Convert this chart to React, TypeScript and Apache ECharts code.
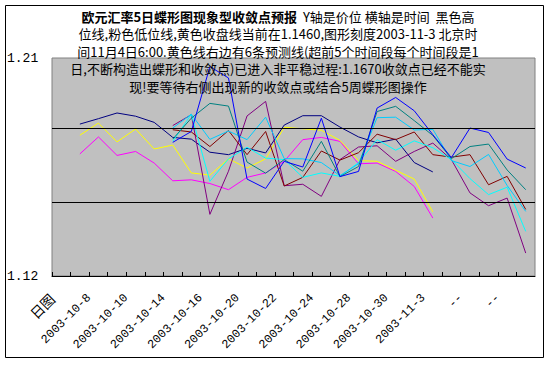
import React, { useEffect, useRef } from "react";
import * as echarts from "echarts";

// x-axis labels (every second slot)
const xLabels = ["日图", "2003-10-8", "2003-10-10", "2003-10-14", "2003-10-16", "2003-10-20", "2003-10-22", "2003-10-24", "2003-10-28", "2003-10-30", "2003-11-3", "--", "--"];
const yLabels = ["1.12", "1.21"];
const gridValues = [1.15, 1.18];

const histStart = 1;
const forecastStart = 6;

const highLine = [1.1816, 1.1838, 1.1861, 1.1848, 1.1823, 1.1762, 1.1755, 1.1702, 1.1692, 1.1718, 1.1699, 1.1812, 1.185, 1.185, 1.1804, 1.1764, 1.174, 1.1755, 1.166, 1.1622];
const closeLine = [1.1771, 1.182, 1.1744, 1.1796, 1.1715, 1.1731, 1.1618, 1.1609, 1.1675, 1.1638, 1.1675, 1.1803, 1.1797, 1.1791, 1.175, 1.1668, 1.1665, 1.1629, 1.1593, 1.146];
const lowLine = [1.1695, 1.1764, 1.1689, 1.1705, 1.1658, 1.1586, 1.159, 1.1575, 1.155, 1.16, 1.1618, 1.1665, 1.1753, 1.1762, 1.1746, 1.1655, 1.1658, 1.1624, 1.1563, 1.1435];

const fBlue = [1.1742, 1.1786, 1.2049, 1.2003, 1.1593, 1.1555, 1.1665, 1.1642, 1.184, 1.1603, 1.1624, 1.1881, 1.1924, 1.187, 1.1773, 1.168, 1.18, 1.1782, 1.1674, 1.1638];
const fTeal = [1.1755, 1.184, 1.19, 1.1889, 1.1662, 1.1617, 1.1672, 1.1625, 1.1746, 1.1603, 1.1644, 1.1867, 1.1888, 1.183, 1.177, 1.1676, 1.1725, 1.1735, 1.163, 1.155];
const fCyanA = [1.18, 1.1856, 1.1754, 1.1788, 1.1753, 1.1844, 1.1676, 1.1675, 1.166, 1.1607, 1.1655, 1.1842, 1.1844, 1.1792, 1.1795, 1.1668, 1.1644, 1.1693, 1.1567, 1.1462];
const fCyanB = [1.1746, 1.1856, 1.1584, 1.1675, 1.1722, 1.1678, 1.1672, 1.16, 1.1618, 1.1604, 1.166, 1.1753, 1.171, 1.1748, 1.172, 1.1672, 1.1595, 1.153, 1.156, 1.1381];
const fMaroon = [1.1793, 1.1784, 1.1725, 1.179, 1.1692, 1.1786, 1.1565, 1.16, 1.1707, 1.167, 1.17, 1.1775, 1.1753, 1.1784, 1.1692, 1.1682, 1.1692, 1.157, 1.1604, 1.147];
const fPurple = [1.181, 1.1854, 1.145, 1.1625, 1.1849, 1.1908, 1.1566, 1.1572, 1.1523, 1.1672, 1.1723, 1.1728, 1.1665, 1.1705, 1.1739, 1.1672, 1.1537, 1.1485, 1.1516, 1.1293];

const titleBold = "欧元汇率5日蝶形图现象型收敛点预报";
const titleLines = [
  "  Y轴是价位 横轴是时间  黑色高",
  "位线,粉色低位线,黄色收盘线当前在1.1460,图形刻度2003-11-3 北京时",
  "间11月4日6:00.黄色线右边有6条预测线(超前5个时间段每个时间段是1",
  "日,不断构造出蝶形和收敛点)已进入非平稳过程:1.1670收敛点已经不能实",
  "现!要等待右侧出现新的收敛点或结合5周蝶形图操作",
];

const CJK = '"Noto Sans CJK SC", sans-serif';
const MONO = '"Liberation Mono", monospace';

function toPoints(arr: number[], start: number) {
  return arr.map((v, i) => [start + i + 0.5, v]);
}

function lineSeries(name: string, arr: number[], start: number, color: string, extra: any = {}) {
  return {
    name,
    type: "line",
    data: toPoints(arr, start),
    showSymbol: false,
    symbol: "none",
    lineStyle: { color, width: 1 },
    itemStyle: { color },
    silent: true,
    ...extra,
  };
}

export default function App() {
  const ref = useRef<HTMLDivElement>(null);
  useEffect(() => {
    if (!ref.current) return;
    const chart = echarts.init(ref.current, null, { renderer: "svg" });
    const lineYs = [16, 33.5, 51, 68.5, 86];
    const graphics: any[] = [
      {
        type: "rect",
        shape: { x: 5.5, y: 5.5, width: 538, height: 352 },
        style: { fill: "none", stroke: "#000", lineWidth: 1 },
        silent: true,
        z: 0,
      },
    ];
    titleLines.forEach((t, i) => {
      const isFirst = i === 0;
      graphics.push({
        type: "text",
        x: 278,
        y: lineYs[i],
        z: 100,
        silent: true,
        style: {
          text: isFirst ? `{b|${titleBold}}${t}` : t,
          font: `13px ${CJK}`,
          fill: "#000",
          textAlign: "center",
          textVerticalAlign: "middle",
          rich: isFirst
            ? {
                b: { fontWeight: "bold", fontSize: 13, fontFamily: CJK, fill: "#000", color: "#000" },
              }
            : undefined,
        },
      });
    });

    chart.setOption({
      animation: false,
      backgroundColor: "#fff",
      grid: {
        left: 52,
        top: 58,
        width: 483,
        height: 218,
        show: true,
        backgroundColor: "#C0C0C0",
        borderColor: "#808080",
        borderWidth: 1,
      },
      xAxis: {
        type: "value",
        min: 0,
        max: 26,
        interval: 1,
        axisLine: { show: true, lineStyle: { color: "#000", width: 1 } },
        axisTick: { show: true, inside: true, length: 4, lineStyle: { color: "#000" } },
        splitLine: { show: false },
        axisLabel: {
          rotate: 45,
          margin: 20,
          fontFamily: MONO,
          fontSize: 12,
          color: "#000",
          showMinLabel: true,
          showMaxLabel: false,
          formatter: (v: number) => {
            const i = Math.round(v);
            if (i % 2 !== 0) return "";
            const l = xLabels[i / 2];
            if (!l) return "";
            return i === 0 ? `{c|${l}}` : l;
          },
          rich: { c: { fontFamily: CJK, fontSize: 14, color: "#000" } },
        },
      },
      yAxis: {
        type: "value",
        min: 1.12,
        max: 1.2084,
        interval: 0.03,
        axisLine: { show: false },
        axisTick: { show: false },
        splitLine: { show: false },
        axisLabel: {
          margin: 45,
          align: "left",
          fontFamily: MONO,
          fontSize: 13,
          color: "#000",
          showMinLabel: true,
          showMaxLabel: true,
          formatter: (v: number) => (v <= 1.1201 ? yLabels[0] : v >= 1.208 ? yLabels[1] : ""),
        },
      },
      graphic: graphics,
      series: [
        lineSeries("high", highLine, histStart, "#000080", {
          markLine: {
            silent: true,
            symbol: ["none", "none"],
            label: { show: false },
            lineStyle: { color: "#000", type: "solid", width: 1 },
            data: gridValues.map((v) => ({ yAxis: v })),
          },
        }),
        lineSeries("low", lowLine, histStart, "#FF00FF"),
        lineSeries("close", closeLine, histStart, "#FFFF00"),
        lineSeries("f1", fPurple, forecastStart, "#800080"),
        lineSeries("f2", fMaroon, forecastStart, "#800000"),
        lineSeries("f3", fCyanB, forecastStart, "#00FFFF"),
        lineSeries("f4", fCyanA, forecastStart, "#00CCFF"),
        lineSeries("f5", fTeal, forecastStart, "#008080"),
        lineSeries("f6", fBlue, forecastStart, "#0000FF"),
      ],
    });
    return () => chart.dispose();
  }, []);
  return (
    <div
      ref={ref}
      style={{ position: "absolute", left: 0, top: 0, width: 551, height: 365, background: "#fff" }}
    />
  );
}
